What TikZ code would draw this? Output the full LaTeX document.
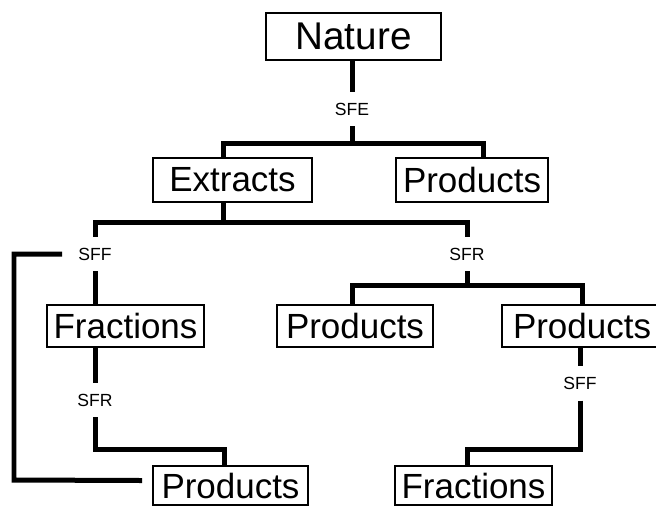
\documentclass[tikz,border=0pt]{standalone}
\usepackage{fontspec}
\setmainfont{Liberation Sans}
\usetikzlibrary{calc}

\begin{document}
\begin{tikzpicture}[x=0.02cm, y=-0.02cm,
  box/.style={draw, line width=0.035cm, inner sep=0pt, minimum height=0.88cm,
    font=\fontsize{19.9}{24}\selectfont},
  tag/.style={inner xsep=0.2cm, inner ysep=0.21cm, font=\fontsize{10}{12}\selectfont},
  link/.style={line width=0.1cm}]
  % frame of the figure
  \useasboundingbox (0,0) rectangle (656,505);
  \clip (0,0) rectangle (656,505);

  % top level
  \node[box, minimum width=3.5cm, minimum height=0.94cm,
    font=\fontsize{22}{26}\selectfont] (nature) at (353.5,36.5) {Nature};
  \node[tag] (sfe) at (352,109) {SFE};
  \node[box, minimum width=3.18cm] (extr) at (232.5,180) {Extracts};
  \node[box, minimum width=3.04cm] (prod1) at (472,180) {Products};

  % second level
  \node[tag] (sff1) at (95,254) {SFF};
  \node[tag] (sfr1) at (467,254) {SFR};
  \node[box, minimum width=3.14cm, minimum height=0.84cm] (frac1) at (125.5,326) {Fractions};
  \node[box, minimum width=3.12cm, minimum height=0.84cm] (prod2) at (355,326) {Products};
  \node[box, minimum width=3.2cm, minimum height=0.84cm] (prod3) at (582,326) {Products};

  % third level (boxes run to the lower edge)
  \node[tag] (sfr2) at (95,400) {SFR};
  \node[tag] (sff2) at (580,383.5) {SFF};
  \node[box, minimum width=3.1cm, minimum height=0.78cm] (prod4) at (230.5,485.5) {Products};
  \node[box, minimum width=3.14cm, minimum height=0.78cm] (frac2) at (473.5,485.5) {Fractions};

  % junctions
  \coordinate (j1) at (352,143);
  \coordinate (j2) at (223,222);
  \coordinate (j3) at (467,285);
  \coordinate (j4) at (95,449);
  \coordinate (j5) at (580,449);
  \coordinate (loop) at (14,480);

  % connectors
  \draw[link] (sfe.north |- nature.south) -- (sfe);
  \draw[link] (sfe) -- (j1);
  \draw[link] ($(extr.north)+(-9.5,0)$) |- (j1) -| ($(prod1.north)+(11,0)$);
  \draw[link] ($(extr.south)+(-9.5,0)$) -- (j2);
  \draw[link] (sff1) |- (j2) -| (sfr1);
  \draw[link] (sff1) -- (sff1 |- frac1.north);
  \draw[link] (sfr1) -- (j3);
  \draw[link] ($(prod2.north)+(-3,0)$) |- (j3) -| (prod3);
  \draw[link] (sfr2 |- frac1.south) -- (sfr2);
  \draw[link] (sfr2) -- (j4) -| ($(prod4.north)+(-6.5,0)$);
  \draw[link] (sff2 |- prod3.south) -- (sff2);
  \draw[link] (sff2) -- (j5) -| ($(frac2.north)+(-6.5,0)$);
  \draw[link] ($(sff1.west)+(-6,0)$) -| (loop) -- ($(prod4.west)+(-10,-5)$);
\end{tikzpicture}
\end{document}
